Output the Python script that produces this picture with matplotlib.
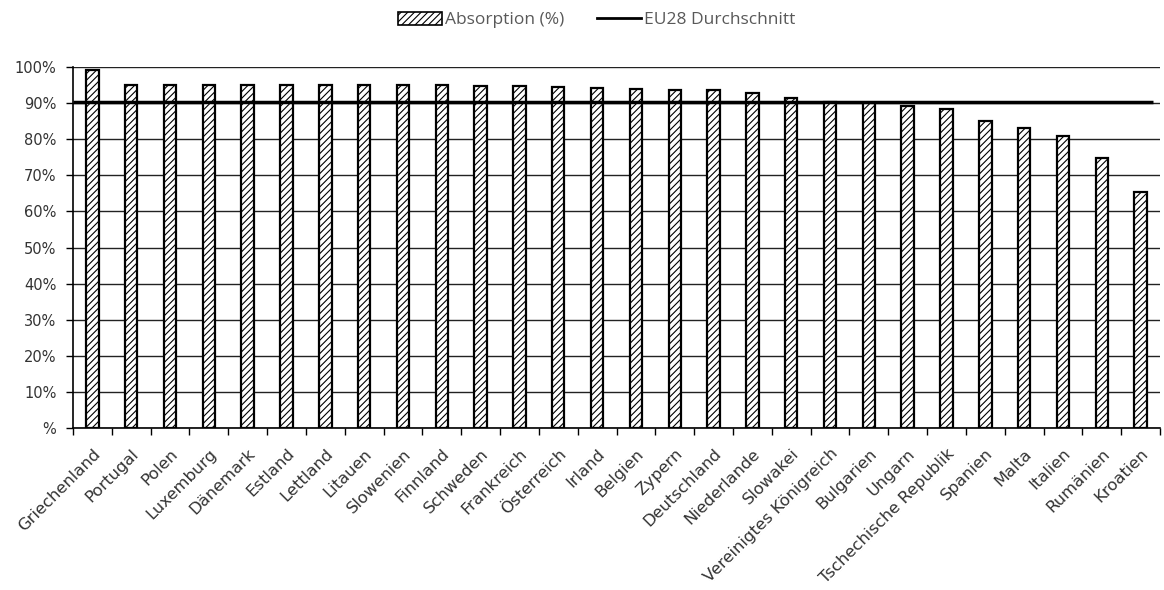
import matplotlib
matplotlib.use("Agg")
import matplotlib.pyplot as plt
import numpy as np
from matplotlib.patches import Patch
from matplotlib.lines import Line2D

countries = ["Griechenland", "Portugal", "Polen", "Luxemburg", "Dänemark", "Estland",
             "Lettland", "Litauen", "Slowenien", "Finnland", "Schweden", "Frankreich",
             "Österreich", "Irland", "Belgien", "Zypern", "Deutschland", "Niederlande",
             "Slowakei", "Vereinigtes Königreich", "Bulgarien", "Ungarn",
             "Tschechische Republik", "Spanien", "Malta", "Italien", "Rumänien", "Kroatien"]
absorption = [99.3, 95.0, 95.0, 95.0, 95.0, 95.0, 95.0, 95.0, 95.0, 95.0, 94.7, 94.7,
              94.4, 94.1, 93.8, 93.5, 93.5, 92.7, 91.4, 90.2, 90.0, 89.3, 88.4, 85.1,
              83.0, 80.9, 74.9, 65.4]
eu28_avg = 90.2
y_ticks = [0, 10, 20, 30, 40, 50, 60, 70, 80, 90, 100]
y_labels = ["%", "10%", "20%", "30%", "40%", "50%", "60%", "70%", "80%", "90%", "100%"]

plt.rcParams['hatch.linewidth'] = 0.8
fig = plt.figure(figsize=(11.64, 5.9), dpi=100)
ax = fig.add_axes([73/1164, 162/590, (1160-73)/1164, (428-67)/590])

x = np.arange(len(countries))
ax.bar(x, absorption, width=0.32, color="white", edgecolor="black", hatch="/////",
       linewidth=1.6, zorder=3)
ax.hlines(eu28_avg, -0.5, len(countries) - 0.67, colors="black", linewidth=2.5, zorder=4)

ax.set_xlim(-0.5, len(countries) - 0.5)
ax.set_ylim(0, 100)
ax.set_yticks(y_ticks)
ax.set_yticklabels(y_labels, fontsize=10.5, family="DejaVu Sans", color="#333333")
ax.yaxis.grid(True, color="#222222", linewidth=1.0, zorder=0)
ax.set_axisbelow(True)

ax.set_xticks(x)
ax.set_xticklabels(countries, rotation=45, ha="right", rotation_mode="anchor",
                   fontsize=11.8, family="DejaVu Sans", color="#333333")
ax.set_xticks(np.arange(len(countries) + 1) - 0.5, minor=True)
ax.tick_params(axis="x", which="major", length=0, pad=13)
ax.tick_params(axis="x", which="minor", length=5, width=1, direction="out")
ax.tick_params(axis="y", length=5, width=1, direction="out", pad=7)

for s in ["top", "right"]:
    ax.spines[s].set_visible(False)
ax.spines["left"].set_linewidth(1.2)
ax.spines["bottom"].set_linewidth(1.2)

handles = [Patch(facecolor="white", edgecolor="black", hatch="/////", linewidth=1.2),
           Line2D([0], [0], color="black", linewidth=2)]
fig.legend(handles, ["Absorption (%)", "EU28 Durchschnitt"], loc="center",
           bbox_to_anchor=(597/1164, 1 - 20/590), ncol=2, frameon=False,
           prop={"family": "Open Sans", "size": 12.5}, labelcolor="#595959",
           handlelength=2.5, handleheight=0.75, columnspacing=1.9, handletextpad=0.2)

fig.savefig("out.png", dpi=100)
